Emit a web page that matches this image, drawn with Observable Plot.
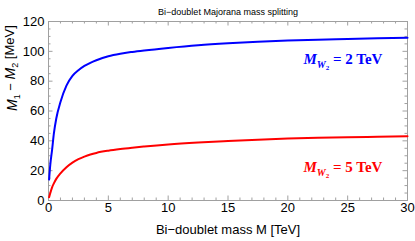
<!DOCTYPE html>
<html><head><meta charset="utf-8">
<script src="https://cdn.jsdelivr.net/npm/d3@7"></script>
<script src="https://cdn.jsdelivr.net/npm/@observablehq/plot@0.6"></script>
<style>
body{margin:0;background:#fff}
</style>
</head><body><div id="chart"></div>
<script>
// Bi-doublet mass M [TeV]
const massM = [0.05, 0.15, 0.3, 0.45, 0.65, 1, 1.5, 2, 2.5, 3, 3.5, 4, 5, 6, 7, 8, 10, 12.5, 15, 17.5, 20, 22.5, 25, 27.5, 30];
// M1 - M2 [MeV] for M_W2 = 2 TeV
const splitW2_2TeV = [14, 24, 34, 45, 55, 66, 77, 83.5, 87.3, 90.2, 92.3, 94, 96.7, 98.4, 99.6, 100.6, 102.3, 104.1, 105.4, 106.4, 107.2, 107.8, 108.3, 108.7, 109.1];
// M1 - M2 [MeV] for M_W2 = 5 TeV
const splitW2_5TeV = [2.2, 5, 8.8, 11.5, 14.5, 18.2, 22.3, 25.4, 27.7, 29.4, 30.8, 31.9, 33.4, 34.5, 35.4, 36.2, 37.6, 38.9, 39.9, 40.8, 41.5, 42, 42.4, 42.7, 43];

const xMajor = [0, 5, 10, 15, 20, 25, 30];
const xMinor = [1,2,3,4,6,7,8,9,11,12,13,14,16,17,18,19,21,22,23,24,26,27,28,29];
const yMajor = [0, 20, 40, 60, 80, 100, 120];
const yMinor = [5,10,15,25,30,35,45,50,55,65,70,75,85,90,95,105,110,115];

const titleText = "Bi\u2212doublet Majorana mass splitting";
const xLabel = "Bi\u2212doublet mass M [TeV]";
const yLabel = "M1 \u2212 M2 [MeV]";
const label2 = "MW2 = 2 TeV";
const label5 = "MW2 = 5 TeV";

const W = 415, H = 241, mL = 48, mR = 8, mT = 21, mB = 41;
const fw = W - mL - mR, fh = H - mT - mB;
const grey = "#a0a0a0";
const sans = "'Liberation Sans', Arial, Helvetica, sans-serif";
const serif = "'Liberation Serif', 'Times New Roman', serif";

const plot = Plot.plot({
  width: W, height: H,
  marginLeft: mL, marginRight: mR, marginTop: mT, marginBottom: mB,
  x: {domain: [0, 30]},
  y: {domain: [0, 120]},
  style: {fontFamily: sans, fontSize: "13px", color: "#000", background: "#fff"},
  marks: [
    Plot.tickX(xMinor, {x: d => d, stroke: grey, insetTop: fh - 2.5}),
    Plot.tickX(xMinor, {x: d => d, stroke: grey, insetBottom: fh - 2.5}),
    Plot.tickX(xMajor, {x: d => d, stroke: grey, insetTop: fh - 4.5}),
    Plot.tickX(xMajor, {x: d => d, stroke: grey, insetBottom: fh - 4.5}),
    Plot.tickY(yMinor, {y: d => d, stroke: grey, insetRight: fw - 2.5}),
    Plot.tickY(yMinor, {y: d => d, stroke: grey, insetLeft: fw - 2.5}),
    Plot.tickY(yMajor, {y: d => d, stroke: grey, insetRight: fw - 4.5}),
    Plot.tickY(yMajor, {y: d => d, stroke: grey, insetLeft: fw - 4.5}),
    Plot.frame({stroke: grey}),
    Plot.axisX(xMajor, {tickSize: 0, tickPadding: 2, label: null, fontSize: 13}),
    Plot.axisY(yMajor, {tickSize: 0, tickPadding: 4, label: null, fontSize: 13}),
    Plot.line(massM, {x: massM, y: splitW2_2TeV, stroke: "#0000ff", strokeWidth: 2, curve: "monotone-x"}),
    Plot.line(massM, {x: massM, y: splitW2_5TeV, stroke: "#ff0000", strokeWidth: 2, curve: "monotone-x"}),
    Plot.text([titleText], {frameAnchor: "top", dy: -13, fontSize: 9, fill: "#000"}),
    Plot.text([xLabel], {frameAnchor: "bottom", dy: 33, fontSize: 13, fill: "#000"}),
    Plot.text([yLabel], {frameAnchor: "left", dx: -36, rotate: -90, fontSize: 13, fill: "#000"}),
    Plot.text([label2], {frameAnchor: "top-left", dx: 255, dy: 32, textAnchor: "start", fill: "#0000ff", fontSize: 15}),
    Plot.text([label5], {frameAnchor: "top-left", dx: 255, dy: 140, textAnchor: "start", fill: "#ff0000", fontSize: 15})
  ]
});
document.getElementById("chart").appendChild(plot);

const svg = d3.select(plot);
function findText(s) {
  return svg.selectAll("text").filter(function() { return this.textContent === s; });
}
// y label with italic M and subscripts
findText(yLabel).each(function() {
  const t = d3.select(this);
  t.text(null);
  t.append("tspan").attr("font-style", "italic").attr("font-size", 14).text("M");
  t.append("tspan").attr("font-size", 9).attr("dy", "0.35em").text("1");
  t.append("tspan").attr("dy", "-0.35em").text(" \u2212 ");
  t.append("tspan").attr("font-style", "italic").attr("font-size", 14).text("M");
  t.append("tspan").attr("font-size", 9).attr("dy", "0.35em").text("2");
  t.append("tspan").attr("dy", "-0.35em").text(" [MeV]");
});
// curve labels
[[label2, "2"], [label5, "5"]].forEach(([s, v]) => {
  findText(s).each(function() {
    const t = d3.select(this);
    t.text(null).attr("font-family", serif).attr("font-weight", "bold");
    t.append("tspan").attr("font-style", "italic").text("M");
    t.append("tspan").attr("font-style", "italic").attr("font-size", 10).attr("dy", 4).text("W");
    t.append("tspan").attr("font-size", 7).attr("dy", 2).text("2");
    t.append("tspan").attr("dy", -6).text(" = " + v + " TeV");
  });
});
</script>
</body></html>
